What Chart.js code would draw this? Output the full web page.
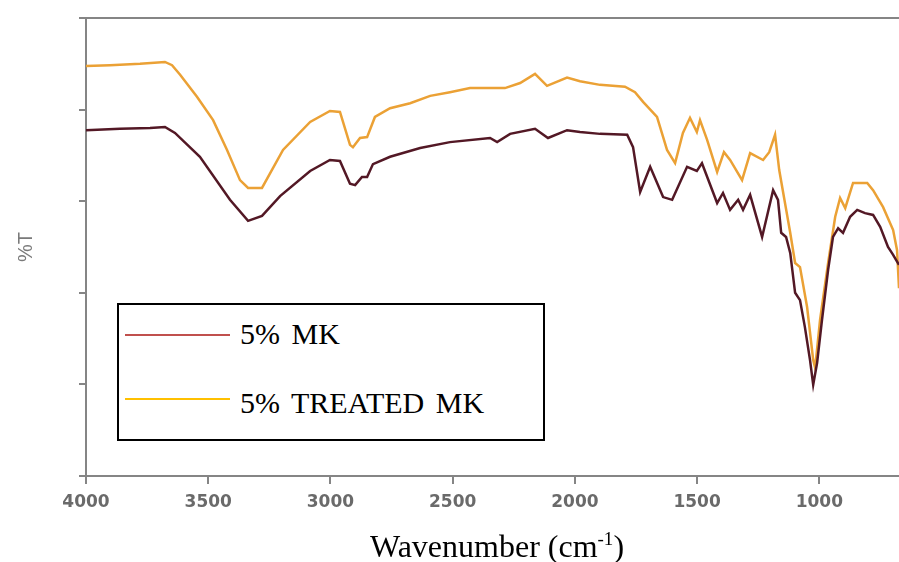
<!DOCTYPE html>
<html>
<head>
<meta charset="utf-8">
<script src="https://cdn.jsdelivr.net/npm/chart.js@4"></script>
<style>
  body { margin: 0; background: #fff; }
  #wrap { position: relative; width: 899px; height: 562px; overflow: hidden; }
  #legendBox {
    position: absolute; left: 117px; top: 303px; width: 424px; height: 134px;
    border: 2px solid #000; background: #fff;
  }
  .lgLine { position: absolute; left: 6px; width: 105px; height: 2px; }
  .lgText {
    position: absolute; left: 121px; font-family: 'Liberation Serif', 'Times New Roman', serif;
    font-size: 30px; line-height: 30px; color: #000; white-space: nowrap; word-spacing: 4px;
  }
  #xTitle {
    position: absolute; left: 370px; top: 530px; font-family: 'Liberation Serif', 'Times New Roman', serif;
    font-size: 32px; line-height: 32px; color: #000; white-space: nowrap;
  }
  #xTitle sup { font-size: 19px; vertical-align: 12px; line-height: 0; }
</style>
</head>
<body>
<div id="wrap">
  <canvas id="ftir" width="899" height="562"></canvas>
  <div id="legendBox">
    <div class="lgLine" style="top: 29px; background: #c0504d;"></div>
    <div class="lgText" style="top: 14px;">5% MK</div>
    <div class="lgLine" style="top: 93px; background: #ffc000;"></div>
    <div class="lgText" style="top: 83px;">5% TREATED MK</div>
  </div>
  <div id="xTitle">Wavenumber (cm<sup>-1</sup>)</div>
</div>
<script>
// wavenumber ticks on the bottom axis
const xTickValues = [4000, 3500, 3000, 2500, 2000, 1500, 1000];

// 5% MK (dark trace)
const mkWavenumber = [4000, 3861, 3738, 3677, 3636, 3534, 3411, 3337, 3280, 3206, 3083, 3002, 2961, 2920, 2899, 2871, 2850, 2826,
  2756, 2633, 2511, 2347, 2318, 2265, 2163, 2110, 2032, 1979, 1897, 1786, 1762, 1733, 1692, 1639, 1602, 1541, 1501, 1480,
  1418, 1394, 1365, 1332, 1312, 1283, 1234, 1189, 1169, 1156, 1136, 1119, 1099, 1079, 1059, 1038, 1025, 1009, 989, 964,
  944, 923, 903, 874, 845, 813, 780, 751, 719, 698, 674];
const mkTransmittance = [75.5, 75.8, 76.0, 76.2, 74.9, 69.7, 60.3, 55.7, 56.8, 61.1, 66.6, 69.0, 68.8, 63.8, 63.5, 65.3, 65.3, 68.1,
  69.7, 71.6, 72.9, 73.8, 72.9, 74.7, 75.8, 73.8, 75.5, 75.1, 74.7, 74.5, 71.8, 62.0, 67.5, 60.9, 60.3, 67.5, 66.6, 68.3,
  59.6, 61.8, 58.1, 60.3, 58.1, 61.4, 52.2, 62.4, 60.3, 53.1, 52.2, 48.7, 40.0, 38.4, 32.5, 25.3, 19.9, 24.7, 34.1, 45.0,
  52.2, 54.1, 53.1, 56.6, 58.1, 57.4, 57.0, 54.4, 50.0, 48.3, 46.1];

// 5% treated MK (orange trace)
const treatedWavenumber = [4000, 3902, 3779, 3677, 3648, 3615, 3546, 3480, 3423, 3370, 3337, 3280, 3194, 3083, 3002, 2961, 2920,
  2908, 2879, 2850, 2818, 2756, 2674, 2592, 2511, 2429, 2286, 2224, 2163, 2114, 2032, 1979, 1897, 1795, 1754, 1721, 1664,
  1623, 1590, 1558, 1529, 1501, 1488, 1459, 1418, 1390, 1365, 1316, 1283, 1230, 1205, 1181, 1164, 1144, 1119, 1099, 1079,
  1050, 1025, 1017, 997, 964, 935, 915, 894, 862, 804, 780, 739, 698, 682, 674];
const treatedTransmittance = [89.5, 89.7, 90.0, 90.4, 89.7, 87.6, 82.8, 77.7, 71.2, 64.6, 62.9, 62.9, 71.2, 77.3, 79.7, 79.5, 72.3,
  71.8, 73.8, 74.0, 78.4, 80.3, 81.4, 83.0, 83.8, 84.7, 84.7, 85.8, 87.8, 85.2, 87.0, 86.2, 85.4, 85.0, 83.8, 81.7, 78.4,
  71.2, 68.3, 74.9, 78.2, 75.1, 77.7, 73.4, 66.4, 70.7, 69.0, 64.6, 70.5, 69.0, 70.7, 74.5, 66.8, 60.7, 53.1, 46.5, 45.6,
  36.9, 25.3, 23.6, 34.1, 46.5, 56.6, 60.7, 58.5, 64.0, 64.0, 62.4, 58.7, 53.7, 49.3, 41.0];

const toPoints = (xs, ys) => xs.map((x, i) => ({ x: x, y: ys[i] }));

const axisGrey = '#858585';

// top frame line of the plot
const topFrame = {
  id: 'topFrame',
  afterDraw(chart) {
    const { ctx, chartArea } = chart;
    ctx.save();
    ctx.strokeStyle = axisGrey;
    ctx.lineWidth = 2;
    ctx.beginPath();
    ctx.moveTo(chartArea.left - 7, chartArea.top);
    ctx.lineTo(chartArea.right, chartArea.top);
    ctx.stroke();
    ctx.restore();
  }
};

new Chart(document.getElementById('ftir').getContext('2d'), {
  type: 'line',
  data: {
    datasets: [
      {
        label: '5% MK',
        data: toPoints(mkWavenumber, mkTransmittance),
        borderColor: '#531825',
        borderWidth: 2.5,
        pointRadius: 0,
        tension: 0
      },
      {
        label: '5% TREATED MK',
        data: toPoints(treatedWavenumber, treatedTransmittance),
        borderColor: '#eba135',
        borderWidth: 2.5,
        pointRadius: 0,
        tension: 0
      }
    ]
  },
  options: {
    responsive: false,
    animation: false,
    layout: { padding: { top: 18, right: 0, left: 0, bottom: 0 } },
    plugins: {
      legend: { display: false },
      tooltip: { enabled: false }
    },
    scales: {
      x: {
        type: 'linear',
        reverse: true,
        min: 674,
        max: 4000,
        afterBuildTicks: (scale) => { scale.ticks = xTickValues.map(v => ({ value: v })); },
        afterFit: (scale) => { scale.height = 86; },
        grid: { drawOnChartArea: false, drawTicks: true, tickLength: 8, color: axisGrey, lineWidth: 2 },
        border: { color: axisGrey, width: 2 },
        ticks: {
          color: '#6a6a6a',
          padding: 8,
          maxRotation: 0,
          callback: (v) => String(v),
          font: { family: "'DejaVu Sans', sans-serif", size: 17, weight: 'bold' }
        }
      },
      y: {
        min: 0,
        max: 100,
        afterFit: (scale) => { scale.width = 86; },
        ticks: { stepSize: 20, display: false },
        grid: { drawOnChartArea: false, drawTicks: true, tickLength: 7, color: axisGrey, lineWidth: 2 },
        border: { color: axisGrey, width: 2 },
        title: {
          display: true,
          text: '%T',
          color: '#7a7a7a',
          padding: { top: 14, bottom: 0 },
          font: { family: "'Liberation Sans', Arial, sans-serif", size: 20 }
        }
      }
    }
  },
  plugins: [topFrame]
});
</script>
</body>
</html>
